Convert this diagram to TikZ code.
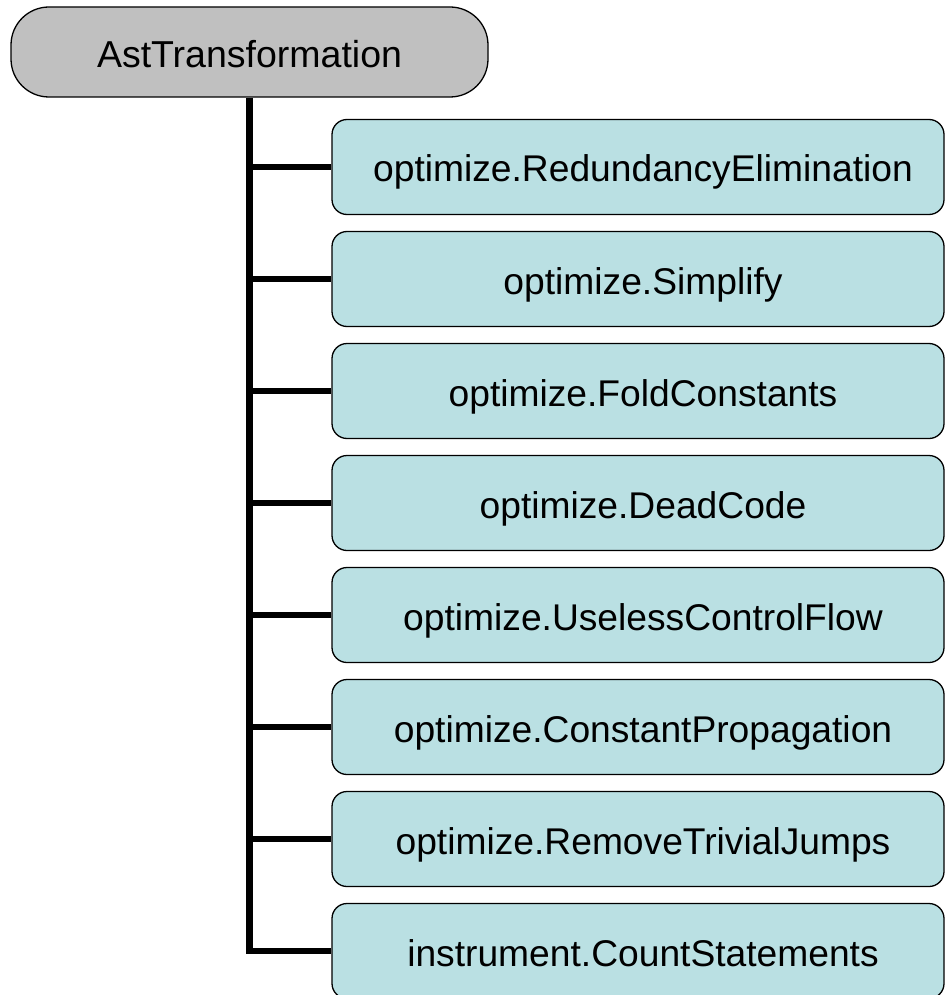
\documentclass[tikz,border=0pt]{standalone}
\usepackage{fontspec}
\setmainfont{Liberation Sans}
\definecolor{rootgray}{HTML}{C0C0C0}
\definecolor{leafblue}{HTML}{BAE0E3}
\begin{document}
\begin{tikzpicture}[x=1pt,y=-1pt,
  rootbox/.style={draw=black, line width=1.3pt, fill=rootgray, rounded corners=38pt,
    minimum width=477pt, minimum height=90pt, inner sep=0pt,
    text height=31pt, text depth=0pt,
    font=\fontsize{37.5}{45}\selectfont},
  leafbox/.style={draw=black, line width=1.3pt, fill=leafblue, rounded corners=15pt,
    minimum width=612pt, minimum height=95pt, inner sep=0pt,
    text height=30pt, text depth=0pt,
    execute at begin node={\hspace*{10pt}},
    font=\fontsize{37.2}{45}\selectfont},
  branch/.style={line width=6.5pt, line join=miter}]
\useasboundingbox (0,0) rectangle (945,995);
\node[rootbox] (root) at (249.5,52) {AstTransformation};
\node[leafbox] (c1) at (638,167) {optimize.RedundancyElimination};
\node[leafbox] (c2) at (638,279) {optimize.Simplify};
\node[leafbox] (c3) at (638,391) {optimize.FoldConstants};
\node[leafbox] (c4) at (638,503) {optimize.DeadCode};
\node[leafbox] (c5) at (638,615) {optimize.UselessControlFlow};
\node[leafbox] (c6) at (638,727) {optimize.ConstantPropagation};
\node[leafbox] (c7) at (638,839) {optimize.RemoveTrivialJumps};
\node[leafbox] (c8) at (638,951) {instrument.CountStatements};
\draw[branch] (root.south) |- (c8.west);
\foreach \i in {1,...,7} {
  \draw[branch] (root.south |- c\i.west) -- (c\i.west);
}
\end{tikzpicture}
\end{document}
